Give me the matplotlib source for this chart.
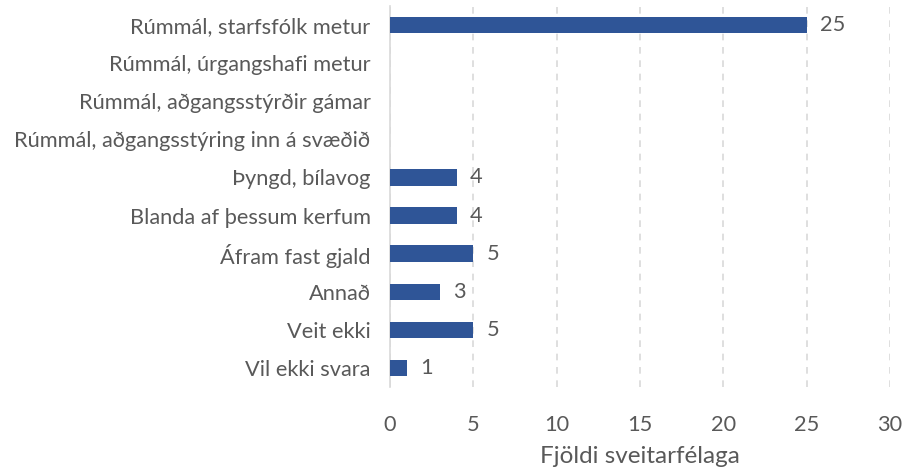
import matplotlib
matplotlib.use("Agg")
import matplotlib.pyplot as plt

categories = [
    "Rúmmál, starfsfólk metur",
    "Rúmmál, úrgangshafi metur",
    "Rúmmál, aðgangsstýrðir gámar",
    "Rúmmál, aðgangsstýring inn á svæðið",
    "Þyngd, bílavog",
    "Blanda af þessum kerfum",
    "Áfram fast gjald",
    "Annað",
    "Veit ekki",
    "Vil ekki svara",
]
values = [25, 0, 0, 0, 4, 4, 5, 3, 5, 1]
xticks = [0, 5, 10, 15, 20, 25, 30]
xlabel = "Fjöldi sveitarfélaga"

plt.rcParams['font.family'] = ['Lato', 'DejaVu Sans']
txt = "#595959"
bar_color = "#2F5597"

fig = plt.figure(figsize=(9.03, 4.68), dpi=100)
ax = fig.add_axes([390/903, 1-387/468, 500/903, 381/468])

y = list(range(len(categories)))
ax.barh(y, values, height=0.43, color=bar_color, zorder=3)
ax.set_ylim(len(categories)-0.5, -0.5)
ax.set_xlim(0, 30)
ax.set_xticks(xticks)
ax.set_xticklabels([str(t) for t in xticks])
ax.set_yticks(y)
ax.set_yticklabels(categories)
ax.tick_params(axis='both', length=0, labelsize=15.7, colors=txt)
ax.tick_params(axis='y', pad=14)
ax.tick_params(axis='x', pad=20)
for s in ['top', 'right', 'bottom']:
    ax.spines[s].set_visible(False)
ax.spines['left'].set_color('#D9D9D9')
ax.spines['left'].set_linewidth(1.2)
ax.xaxis.grid(True, color='#D9D9D9', linestyle=(0, (4, 4)), linewidth=1.2, zorder=0)
ax.set_axisbelow(True)

for yi, v in zip(y, values):
    if v > 0:
        ax.text(v + 0.8, yi, str(v), va='center', ha='left', fontsize=15.7, color=txt)

ax.set_xlabel(xlabel, fontsize=17.5, color=txt, labelpad=8)

fig.savefig("out.png", dpi=100)
